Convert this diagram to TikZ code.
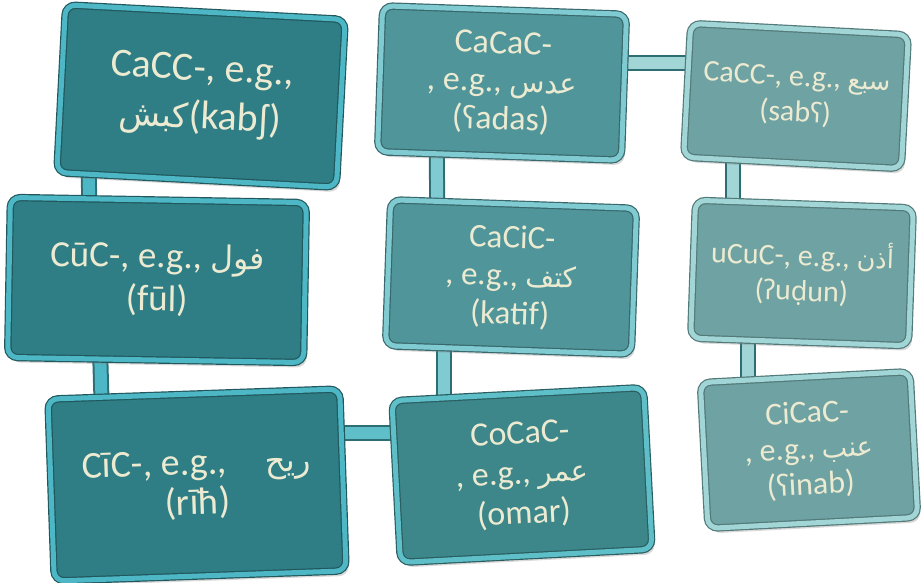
\documentclass[tikz,border=0pt]{standalone}
\usepackage{fontspec}
\setmainfont{Carlito}
\newfontfamily\ipafont{Noto Sans}
\newfontfamily\arabicfont[Script=Arabic]{DejaVu Sans}
\TeXXeTstate=1
\usepackage{tikz}
\usetikzlibrary{shadows, backgrounds}

\definecolor{darkfill}{HTML}{2F7D85}
\definecolor{darkrim}{HTML}{4DB7C5}
\definecolor{midfill}{HTML}{3D878B}
\definecolor{midrim}{HTML}{5EBFC8}
\definecolor{lightfill}{HTML}{50959A}
\definecolor{lightrim}{HTML}{80CBD1}
\definecolor{palefill}{HTML}{6FA2A2}
\definecolor{palerim}{HTML}{A2D6D6}
\definecolor{pipeedge}{HTML}{2C6E74}
\definecolor{cream}{HTML}{ECEBD2}

\newcommand{\ar}[1]{{\arabicfont\fontsize{0.85em}{0pt}\selectfont\beginR #1\endR}}
\newcommand{\ipa}[1]{{\ipafont\fontsize{0.9em}{0pt}\selectfont #1}}

\begin{document}
\begin{tikzpicture}[x=1pt, y=-1pt]
    \tikzstyle{box} = [rectangle, rounded corners=10pt, line width=1.2pt, double distance=5pt,
        text=cream, align=center, inner sep=2pt,
        drop shadow={opacity=0.3, shadow xshift=3pt, shadow yshift=-5pt}]
    \tikzstyle{dark} = [fill=darkfill, draw=darkfill!70!black, double=darkrim]
    \tikzstyle{mid} = [fill=midfill, draw=midfill!70!black, double=midrim]
    \tikzstyle{light} = [fill=lightfill, draw=lightfill!70!black, double=lightrim]
    \tikzstyle{pale} = [fill=palefill, draw=palefill!75!black, double=palerim]
    \tikzstyle{pipe} = [draw=pipeedge, line width=2pt, double distance=12pt]

    \useasboundingbox (0,0) rectangle (921,582);

    % left column
    \node [box, dark, minimum width=280pt, minimum height=168pt, rotate=-3,
        font=\fontsize{40}{48}\selectfont] (kabsh) at (201,96)
        {CaCC-, e.g.,\\ \ar{كبش}(kab\kern1pt\ipa{ʃ})};
    \node [box, dark, minimum width=296pt, minimum height=160pt, rotate=-1,
        font=\fontsize{37}{43}\selectfont] (ful) at (157,280)
        {CūC-, e.g., \ar{فول}\\ (fūl)};
    \node [box, dark, minimum width=292pt, minimum height=182pt, rotate=2,
        font=\fontsize{38}{40}\selectfont] (rih) at (197,485)
        {CīC-, e.g.,\quad \ar{ريح}\\ (rīħ)};

    % middle column
    \node [box, light, minimum width=244pt, minimum height=146pt, rotate=-2,
        font=\fontsize{34}{38}\selectfont] (adas) at (502,83)
        {CaCaC-\\ , e.g.,\ \ar{عدس}\\ (\ipa{ʕ}adas)};
    \node [box, light, minimum width=246pt, minimum height=146pt, rotate=-2,
        font=\fontsize{33}{38}\selectfont] (katif) at (511,277)
        {CaCiC-\\ , e.g., \ar{كتف}\\ (katif)};
    \node [box, mid, minimum width=252pt, minimum height=162pt, rotate=3,
        font=\fontsize{34}{40}\selectfont] (omar) at (522,475)
        {CoCaC-\\ , e.g.,\ \ar{عمر}\\ (omar)};

    % right column
    \node [box, pale, minimum width=218pt, minimum height=134pt, rotate=-3,
        font=\fontsize{30}{36}\selectfont] (sab) at (796,96)
        {CaCC-, e.g., \ar{سبع}\\ (sab\ipa{ʕ})};
    \node [box, pale, minimum width=218pt, minimum height=138pt, rotate=-2,
        font=\fontsize{30}{35}\selectfont] (udun) at (802,273)
        {uCuC-, e.g., \ar{أذن}\\ (\ipa{ʔ}u\ipa{ḍ}un)};
    \node [box, pale, minimum width=210pt, minimum height=146pt, rotate=3,
        font=\fontsize{32}{36}\selectfont] (inab) at (809,450)
        {CiCaC-\\ , e.g.,\ \ar{عنب}\\ (\ipa{ʕ}inab)};

    \begin{scope}[on background layer]
        \path [pipe, double=darkrim] (kabsh.center -| 88,0) -- (ful.center -| 90,0);
        \path [pipe, double=darkrim] (ful.center -| 98,0) -- (rih.center -| 104,0);
        \path [pipe, double=midrim] (rih.center |- 0,433) -- (omar.center |- 0,433);
        \path [pipe, double=lightrim] (omar.center -| 444,0) -- (katif.center -| 444,0);
        \path [pipe, double=lightrim] (katif.center -| 438,0) -- (adas.center -| 436,0);
        \path [pipe, double=palerim] (adas.center |- 0,63) -- (sab.center |- 0,63);
        \path [pipe, double=palerim] (sab.center -| 733,0) -- (udun.center -| 733,0);
        \path [pipe, double=palerim] (udun.center -| 748,0) -- (inab.center -| 748,0);
    \end{scope}
\end{tikzpicture}
\end{document}
